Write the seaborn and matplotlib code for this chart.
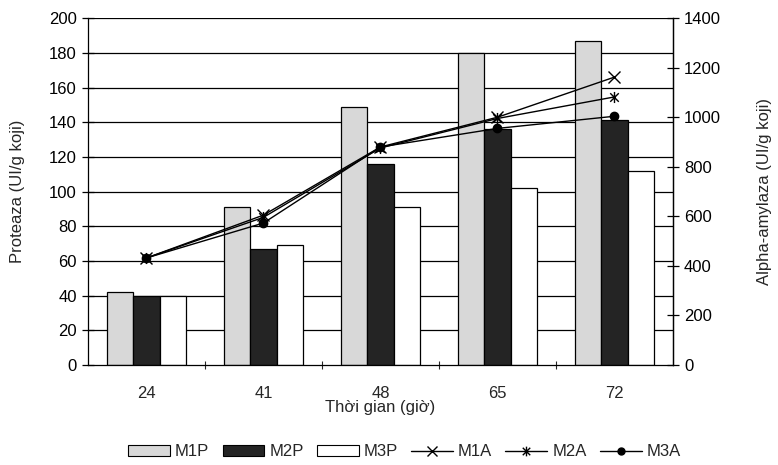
import numpy as np
import pandas as pd
import matplotlib
matplotlib.use("Agg")
import matplotlib.pyplot as plt
from matplotlib.ticker import MultipleLocator, FixedLocator
from matplotlib.patches import Patch
from matplotlib.lines import Line2D
from matplotlib.path import Path
import seaborn as sns

# Fermentation time (hours)
times = ["24", "41", "48", "65", "72"]

# Protease activity (UI/g koji), left axis
m1p = [42, 91, 149, 180, 187]
m2p = [40, 67, 116, 136, 141]
m3p = [40, 69, 91, 102, 112]

# Alpha-amylase activity (UI/g koji), right axis
m1a = [432, 605, 880, 1000, 1162]
m2a = [432, 596, 876, 995, 1082]
m3a = [432, 573, 880, 955, 1004]

sns.set_theme(style="white")
plt.rcParams["font.family"] = ["Liberation Sans", "DejaVu Sans"]
FS = 12

bars = pd.DataFrame({
    "time": times * 3,
    "series": ["M1P"] * 5 + ["M2P"] * 5 + ["M3P"] * 5,
    "value": m1p + m2p + m3p,
})
lines = pd.DataFrame({
    "pos": list(range(5)) * 3,
    "series": ["M1A"] * 5 + ["M2A"] * 5 + ["M3A"] * 5,
    "value": m1a + m2a + m3a,
})

bar_colors = {"M1P": "#d8d8d8", "M2P": "#242424", "M3P": "#ffffff"}

# star marker: an "x" crossed by a vertical stroke
star = Path([(-1, -1), (1, 1), (-1, 1), (1, -1), (0, -1.3), (0, 1.3)],
            [Path.MOVETO, Path.LINETO, Path.MOVETO, Path.LINETO,
             Path.MOVETO, Path.LINETO])

fig = plt.figure(figsize=(7.78, 4.65), dpi=100)
ax = fig.add_axes([0.113, 0.215, 0.752, 0.746])

# horizontal grid behind the bars
for yv in range(20, 201, 20):
    ax.axhline(yv, color="black", lw=0.9, zorder=0)

sns.barplot(data=bars, x="time", y="value", hue="series", order=times,
            palette=bar_colors, width=0.68, gap=0, edgecolor="black",
            linewidth=0.9, ax=ax, legend=False, zorder=2)

ax.set_ylim(0, 200)
ax.set_xlim(-0.5, 4.5)
ax.yaxis.set_major_locator(MultipleLocator(20))
ax.set_ylabel("Proteaza (UI/g koji)", fontsize=FS, va="center", ha="center")
ax.yaxis.set_label_coords(-0.121, 0.5)
ax.set_xlabel("Thời gian (giờ)", fontsize=FS, va="center", ha="center")
ax.xaxis.set_label_coords(0.5, -0.122)
ax.tick_params(axis="y", direction="inout", length=8, width=0.9,
               colors="black", labelsize=FS, pad=4, left=True)
ax.tick_params(axis="x", which="major", length=0, labelsize=FS, pad=15)
ax.xaxis.set_minor_locator(FixedLocator([0.5, 1.5, 2.5, 3.5]))
ax.tick_params(axis="x", which="minor", direction="inout", length=6,
               width=0.8, bottom=True)
for side in ["left", "bottom", "right"]:
    ax.spines[side].set_color("black")
    ax.spines[side].set_linewidth(0.9)
ax.spines["top"].set_visible(False)

ax2 = ax.twinx()
markers = {"M1A": "x", "M2A": star, "M3A": "o"}
sizes = {"M1A": 8, "M2A": 8, "M3A": 6}
for name in ["M1A", "M2A", "M3A"]:
    sub = lines[lines["series"] == name]
    sns.lineplot(data=sub, x="pos", y="value", color="black", lw=1.0,
                 marker=markers[name], markersize=sizes[name],
                 markeredgecolor="black", markerfacecolor="black",
                 markeredgewidth=1.0, ax=ax2, legend=False, zorder=5)
ax2.set_xlim(-0.5, 4.5)
ax2.set_ylim(0, 1400)
ax2.yaxis.set_major_locator(MultipleLocator(200))
ax2.set_ylabel("Alpha-amylaza (UI/g koji)", fontsize=FS, va="center",
               ha="center", rotation=90)
ax2.yaxis.set_label_coords(1.157, 0.5)
ax2.tick_params(axis="y", direction="inout", length=8, width=0.9,
                colors="black", labelsize=FS, pad=4, right=True)
for side in ["left", "bottom", "top"]:
    ax2.spines[side].set_visible(False)
ax2.spines["right"].set_color("black")
ax2.spines["right"].set_linewidth(0.9)

handles = [
    Patch(facecolor=bar_colors["M1P"], edgecolor="black", lw=0.8, label="M1P"),
    Patch(facecolor=bar_colors["M2P"], edgecolor="black", lw=0.8, label="M2P"),
    Patch(facecolor=bar_colors["M3P"], edgecolor="black", lw=0.8, label="M3P"),
]
for name in ["M1A", "M2A", "M3A"]:
    handles.append(Line2D([], [], color="black", lw=1.0, marker=markers[name],
                          markersize=sizes[name] - 1, markerfacecolor="black",
                          markeredgewidth=1.0, label=name))
fig.legend(handles=handles, loc="center", bbox_to_anchor=(0.52, 0.028),
           ncol=6, frameon=False, fontsize=FS, handlelength=2.5,
           handleheight=0.7, handletextpad=0.3, columnspacing=0.8)

fig.savefig("out.png", dpi=100)
